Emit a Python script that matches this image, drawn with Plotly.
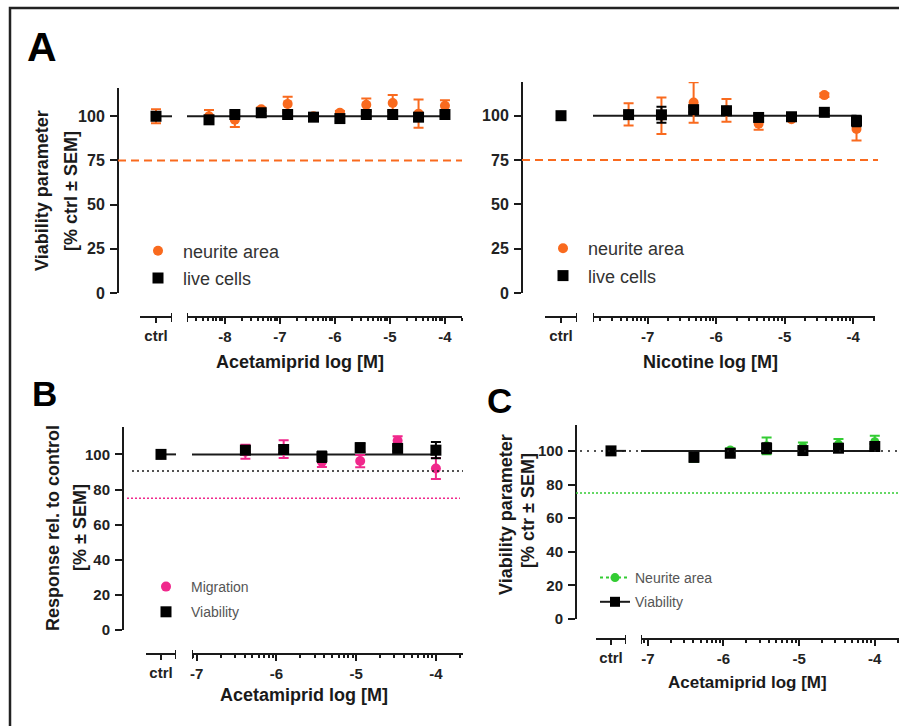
import math
import plotly.graph_objects as go

W, H = 899, 726
def px(x): return x / W
def py(y): return 1 - y / H

# ---------------- data ----------------
# Panel A (left): Acetamiprid, log [M]
a1_conc = [-8.29, -7.82, -7.34, -6.86, -6.39, -5.91, -5.43, -4.95, -4.48, -4.0]
a1_neurite = [100.0, 98.0, 104.0, 107.0, 100.0, 102.0, 106.5, 107.5, 101.5, 106.0]
a1_neurite_sem = [3.5, 4.0, 1.0, 4.0, 1.0, 1.0, 3.5, 4.5, 8.0, 3.0]
a1_live = [98.0, 101.0, 102.0, 101.0, 99.5, 98.7, 101.0, 101.0, 99.5, 101.0]
a1_live_sem = [1.5, 1.5, 1.0, 1.0, 1.0, 1.5, 1.5, 1.5, 1.5, 1.5]
a1_ctrl_neurite, a1_ctrl_neurite_sem = 100.0, 4.0
a1_ctrl_live, a1_ctrl_live_sem = 100.0, 1.5

# Panel A (right): Nicotine, log [M]
a2_conc = [-7.28, -6.80, -6.33, -5.85, -5.38, -4.90, -4.42, -3.95]
a2_neurite = [100.7, 100.0, 107.4, 103.0, 95.5, 98.0, 111.6, 92.5]
a2_neurite_sem = [6.3, 10.3, 11.4, 6.4, 3.5, 1.0, 1.0, 6.5]
a2_live = [100.6, 100.5, 103.4, 102.8, 99.0, 99.4, 101.9, 97.0]
a2_live_sem = [1.5, 4.5, 1.5, 1.5, 2.0, 1.0, 1.0, 3.0]
a2_ctrl_neurite, a2_ctrl_neurite_sem = 100.0, 0.0
a2_ctrl_live, a2_ctrl_live_sem = 100.0, 1.0

# Panel B: Acetamiprid, migration / viability
b_conc = [-6.39, -5.91, -5.43, -4.95, -4.48, -4.0]
b_migration = [101.5, 103.0, 95.8, 96.2, 107.8, 92.0]
b_migration_sem = [4.0, 5.0, 3.0, 3.5, 2.5, 6.0]
b_viability = [102.4, 102.8, 98.7, 103.8, 103.4, 102.4]
b_viability_sem = [2.0, 2.0, 3.0, 2.5, 1.5, 4.6]
b_ctrl_migration, b_ctrl_migration_sem = 100.0, 0.0
b_ctrl_viability, b_ctrl_viability_sem = 100.0, 1.0

# Panel C: Acetamiprid, neurite area / viability
c_conc = [-6.39, -5.91, -5.43, -4.95, -4.48, -4.0]
c_neurite = [96.0, 100.6, 103.0, 102.5, 104.0, 105.5]
c_neurite_sem = [2.5, 1.0, 5.0, 2.5, 3.0, 3.5]
c_viability = [96.2, 98.6, 101.6, 100.2, 101.6, 102.6]
c_viability_sem = [2.5, 1.5, 3.0, 1.5, 1.5, 1.5]
c_ctrl_neurite, c_ctrl_neurite_sem = 100.0, 0.0
c_ctrl_viability, c_ctrl_viability_sem = 100.0, 1.0

fit_level = 100.0
a_threshold = 75.0
b_threshold_viab = 90.5
b_threshold_mig = 75.0
c_threshold_viab = 100.0
c_threshold_neur = 75.0

a_yticks = [0, 25, 50, 75, 100]
bc_yticks = [0, 20, 40, 60, 80, 100]
a1_majors = [-8, -7, -6, -5, -4]
a2_majors = [-7, -6, -5, -4]
bc_majors = [-7, -6, -5, -4]

# ---------------- style ----------------
FONT = "Liberation Sans, Arial, sans-serif"
INK = "#1a1a1a"
ORANGE = "#F96A1E"
PINK = "#F0288C"
GREEN = "#33CC33"

fig = go.Figure()
layout = dict(width=W, height=H, margin=dict(l=0, r=0, t=0, b=0),
              paper_bgcolor="white", plot_bgcolor="rgba(0,0,0,0)",
              showlegend=True, shapes=[], annotations=[])

panels = [
    dict(y="y", x_c="x", x_l="x2", yx=118, ybot=293, ytop=88, ymax=116, yticks=a_yticks,
         ctrl=(140, 172), log=(187, 462), lrange=(-8.69, -3.69), axy=317, majors=a1_majors,
         ysize=16),
    dict(y="y2", x_c="x3", x_l="x4", yx=522, ybot=293, ytop=82, ymax=119, yticks=a_yticks,
         ctrl=(545, 577), log=(593, 875), lrange=(-7.80, -3.68), axy=317, majors=a2_majors,
         ysize=16),
    dict(y="y3", x_c="x5", x_l="x6", yx=123, ybot=630, ytop=427, ymax=115.6, yticks=bc_yticks,
         ctrl=(146, 176), log=(192, 463), lrange=(-7.06, -3.66), axy=654, majors=bc_majors,
         ysize=15),
    dict(y="y4", x_c="x7", x_l="x8", yx=576, ybot=619, ytop=425, ymax=115.4, yticks=bc_yticks,
         ctrl=(596, 626), log=(641, 899), lrange=(-7.09, -3.68), axy=639, majors=bc_majors,
         ysize=15),
]

def axname(a):
    return ("xaxis" if a[0] == "x" else "yaxis") + a[1:]

def tfont(size):
    return dict(family=FONT, size=size, color="#222", weight="bold")

for p in panels:
    layout[axname(p["y"])] = dict(
        domain=[py(p["ybot"]), py(p["ytop"])], range=[0, p["ymax"]], anchor="free",
        position=px(p["yx"]), showline=True, linewidth=2, linecolor=INK, ticks="outside",
        ticklen=7, tickwidth=2, tickcolor=INK, tickvals=p["yticks"], tickfont=tfont(p["ysize"]),
        ticklabelstandoff=2,
        showgrid=False, zeroline=False, automargin=False, fixedrange=True)
    layout[axname(p["x_c"])] = dict(
        domain=[px(p["ctrl"][0]), px(p["ctrl"][1])], range=[-1, 1], anchor="free",
        position=py(p["axy"]), showline=True, linewidth=2, linecolor=INK, ticks="outside",
        ticklen=5, tickwidth=2, tickcolor=INK, tickvals=[0], ticktext=["ctrl"],
        tickfont=tfont(15), showgrid=False, zeroline=False, automargin=False, fixedrange=True)
    lo, hi = p["lrange"]
    minors = []
    for d in range(math.floor(lo), math.ceil(hi) + 1):
        for k in range(2, 10):
            v = d + math.log10(k)
            if lo <= v <= hi:
                minors.append(v)
    layout[axname(p["x_l"])] = dict(
        domain=[px(p["log"][0]), px(p["log"][1])], range=[lo, hi], anchor="free",
        position=py(p["axy"]), showline=True, linewidth=2, linecolor=INK, ticks="outside",
        ticklen=6, tickwidth=2, tickcolor=INK, tickvals=p["majors"],
        ticktext=[str(m) for m in p["majors"]], tickfont=tfont(15),
        minor=dict(tickmode="array", tickvals=minors, ticks="outside", ticklen=3,
                   tickwidth=1.5, tickcolor=INK, showgrid=False),
        showgrid=False, zeroline=False, automargin=False, fixedrange=True)
    # end caps of the broken x axes
    for ref, xv in ((p["x_c"], 1), (p["x_l"], lo)):
        layout["shapes"].append(dict(type="line", xref=ref, yref="paper", x0=xv, x1=xv,
                                     y0=py(p["axy"] + 5), y1=py(p["axy"] - 4),
                                     line=dict(color=INK, width=2)))


def add_series(p, conc, vals, sems, cval, csem, color, symbol, size, name, legend, group):
    eb = dict(type="data", array=sems, color=color, thickness=2, width=5)
    ebc = dict(type="data", array=[csem], color=color, thickness=2, width=5)
    fig.add_trace(go.Scatter(x=[0], y=[cval], error_y=ebc, mode="markers",
                             marker=dict(color=color, symbol=symbol, size=size),
                             xaxis=p["x_c"], yaxis=p["y"], showlegend=False,
                             legendgroup=group, cliponaxis=False, hoverinfo="skip"))
    kw = dict(legend=legend, showlegend=True) if legend else dict(showlegend=False)
    fig.add_trace(go.Scatter(x=conc, y=vals, error_y=eb, mode="markers",
                             marker=dict(color=color, symbol=symbol, size=size),
                             xaxis=p["x_l"], yaxis=p["y"], name=name,
                             legendgroup=group, cliponaxis=False, **kw))


def add_fit(p, last_x, ctrl_segment=True):
    lo = p["lrange"][0]
    fig.add_trace(go.Scatter(x=[lo, last_x], y=[fit_level, fit_level], mode="lines",
                             line=dict(color=INK, width=2), xaxis=p["x_l"], yaxis=p["y"],
                             showlegend=False, cliponaxis=False, hoverinfo="skip"))
    if ctrl_segment:
        fig.add_trace(go.Scatter(x=[0, 1], y=[fit_level, fit_level], mode="lines",
                                 line=dict(color=INK, width=2), xaxis=p["x_c"], yaxis=p["y"],
                                 showlegend=False, cliponaxis=False, hoverinfo="skip"))


def hline(p, yval, x0, x1, color, dash, width=2):
    layout["shapes"].append(dict(type="line", xref="paper", yref=p["y"], x0=px(x0), x1=px(x1),
                                 y0=yval, y1=yval, line=dict(color=color, width=width, dash=dash)))


pA1, pA2, pB, pC = panels
# Panel A left
hline(pA1, a_threshold, 118, 462, ORANGE, "8px,5px")
add_fit(pA1, a1_conc[-1])
add_series(pA1, a1_conc, a1_neurite, a1_neurite_sem, a1_ctrl_neurite, a1_ctrl_neurite_sem,
           ORANGE, "circle", 10, "neurite area", "legend", "a1n")
add_series(pA1, a1_conc, a1_live, a1_live_sem, a1_ctrl_live, a1_ctrl_live_sem,
           "black", "square", 11, "live cells", "legend", "a1l")

# Panel A right
hline(pA2, a_threshold, 522, 878, ORANGE, "8px,5px")
add_fit(pA2, a2_conc[-1], ctrl_segment=False)
add_series(pA2, a2_conc, a2_neurite, a2_neurite_sem, a2_ctrl_neurite, a2_ctrl_neurite_sem,
           ORANGE, "circle", 10, "neurite area", "legend2", "a2n")
add_series(pA2, a2_conc, a2_live, a2_live_sem, a2_ctrl_live, a2_ctrl_live_sem,
           "black", "square", 11, "live cells", "legend2", "a2l")

# Panel B
hline(pB, b_threshold_viab, 132, 463, INK, "2px,3px", 1.5)
hline(pB, b_threshold_mig, 127, 460, PINK, "2px,2px", 1.5)
add_fit(pB, b_conc[-1])
add_series(pB, b_conc, b_migration, b_migration_sem, b_ctrl_migration, b_ctrl_migration_sem,
           PINK, "circle", 10, "Migration", "legend3", "bm")
add_series(pB, b_conc, b_viability, b_viability_sem, b_ctrl_viability, b_ctrl_viability_sem,
           "black", "square", 11, "Viability", "legend3", "bv")

# Panel C
hline(pC, c_threshold_viab, 580, 899, INK, "2px,5px", 1.5)
hline(pC, c_threshold_neur, 576, 899, GREEN, "2px,2px", 1.5)
add_fit(pC, c_conc[-1])
add_series(pC, c_conc, c_neurite, c_neurite_sem, c_ctrl_neurite, c_ctrl_neurite_sem,
           GREEN, "circle", 9, "Neurite area", None, "cn")
add_series(pC, c_conc, c_viability, c_viability_sem, c_ctrl_viability, c_ctrl_viability_sem,
           "black", "square", 11, "Viability", None, "cv")
# legend proxies (line + marker style of panel C legend)
fig.add_trace(go.Scatter(x=[None], y=[None], mode="lines+markers", name="Neurite area",
                         line=dict(color=GREEN, width=2, dash="dot"),
                         marker=dict(color=GREEN, size=9), xaxis=pC["x_l"], yaxis=pC["y"],
                         legend="legend4", legendgroup="cn"))
fig.add_trace(go.Scatter(x=[None], y=[None], mode="lines+markers", name="Viability",
                         line=dict(color=INK, width=2), marker=dict(color="black", symbol="square", size=10),
                         xaxis=pC["x_l"], yaxis=pC["y"], legend="legend4", legendgroup="cv"))

leg_common = dict(xanchor="left", yanchor="middle", bgcolor="rgba(0,0,0,0)",
                  traceorder="grouped", orientation="v")
layout["legend"] = dict(x=px(133), y=py(264.5), itemwidth=40, tracegroupgap=1,
                        font=dict(family=FONT, size=18, color="#333"), **leg_common)
layout["legend2"] = dict(x=px(538), y=py(262), itemwidth=40, tracegroupgap=1,
                         font=dict(family=FONT, size=18, color="#333"), **leg_common)
layout["legend3"] = dict(x=px(141), y=py(599.5), itemwidth=40, tracegroupgap=4,
                         font=dict(family=FONT, size=14, color="#555"), **leg_common)
layout["legend4"] = dict(x=px(595), y=py(590), itemwidth=30, tracegroupgap=3,
                         font=dict(family=FONT, size=14, color="#555"), **leg_common)

# ---------------- text ----------------
def ann(text, x, y, size, bold=True, angle=0, color="#1a1a1a"):
    layout["annotations"].append(dict(
        text=text, x=px(x), y=py(y), xref="paper", yref="paper", showarrow=False,
        xanchor="center", yanchor="middle", textangle=angle,
        font=dict(family=FONT, size=size, color=color, weight="bold" if bold else "normal")))

ann("A", 42, 47, 41, color="black")
ann("B", 44, 393, 35, color="black")
ann("C", 499, 400, 35, color="black")

ann("Viability parameter", 42, 191, 18, angle=-90)
ann("[% ctrl ± SEM]", 71, 191, 18, angle=-90)
ann("Response rel. to control", 53, 528, 18, angle=-90)
ann("[% ± SEM]", 80, 528, 18, angle=-90)
ann("Viability parameter", 506, 515, 18, angle=-90)
ann("[% ctr ± SEM]", 528, 511, 18, angle=-90)

ann("Acetamiprid log [M]", 300, 362, 18)
ann("Nicotine log [M]", 710, 362, 18)
ann("Acetamiprid log [M]", 304, 695, 18)
ann("Acetamiprid log [M]", 747, 682, 17)

# outer frame
layout["shapes"].append(dict(type="rect", xref="paper", yref="paper", x0=px(10), x1=1.05,
                             y0=-0.05, y1=py(8), line=dict(color="#222", width=2.5)))

fig.update_layout(**layout)
fig.write_html("out.html")
